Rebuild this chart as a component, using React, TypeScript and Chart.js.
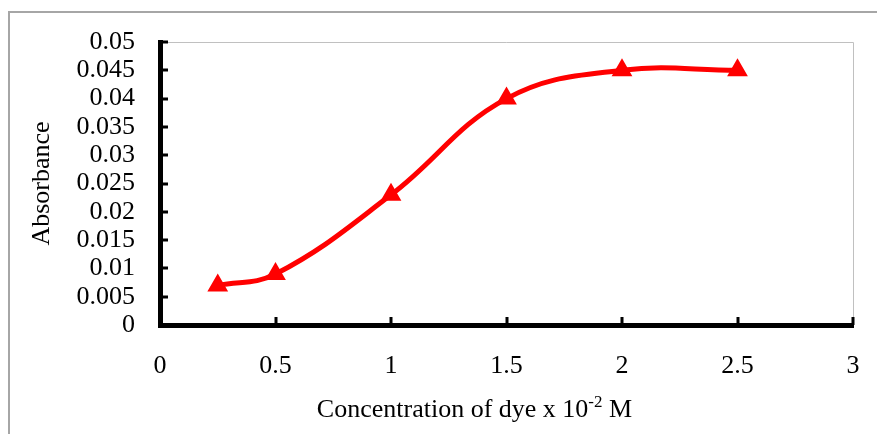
import React, { useEffect, useRef } from "react";
import { Chart, registerables } from "chart.js";

Chart.register(...registerables);

const concentration = [0.25, 0.5, 1, 1.5, 2, 2.5];
const absorbance = [0.007, 0.009, 0.023, 0.04, 0.045, 0.045];
const xTitleMain = "Concentration of dye x 10";
const xTitleSup = "-2";
const xTitleUnit = " M";
const yTitleText = "Absorbance";

const FONT = '"Liberation Serif", "Times New Roman", serif';

export default function App() {
  const ref = useRef<HTMLCanvasElement>(null);

  useEffect(() => {
    if (!ref.current) return;

    const decor = {
      id: "decor",
      beforeDraw(chart: any) {
        const { ctx, chartArea: a } = chart;
        ctx.save();
        ctx.fillStyle = "#ffffff";
        ctx.fillRect(0, 0, chart.width, chart.height);
        // outer frame
        ctx.fillStyle = "#a6a6a6";
        ctx.fillRect(8, 11, chart.width, 2);
        ctx.fillRect(8, 11, 2, chart.height);
        // plot area border (top/right)
        ctx.strokeStyle = "#c0c0c0";
        ctx.lineWidth = 1;
        ctx.beginPath();
        ctx.moveTo(a.left, Math.round(a.top) + 0.5);
        ctx.lineTo(Math.round(a.right) + 0.5, Math.round(a.top) + 0.5);
        ctx.lineTo(Math.round(a.right) + 0.5, a.bottom);
        ctx.stroke();
        ctx.restore();
      },
      afterDraw(chart: any) {
        const { ctx, chartArea: a, scales } = chart;
        ctx.save();
        ctx.fillStyle = "#000000";
        // inward tick marks
        scales.y.ticks.forEach((t: any) => {
          const py = scales.y.getPixelForValue(t.value);
          ctx.fillRect(a.left, Math.round(py) - 1.5, 8, 3);
        });
        scales.x.ticks.forEach((t: any) => {
          const px = scales.x.getPixelForValue(t.value);
          ctx.fillRect(Math.round(px) - 1.5, a.bottom - 8, 3, 8);
        });
        // x title with superscript
        const mainFont = `26px ${FONT}`;
        const supFont = `17px ${FONT}`;
        ctx.font = mainFont;
        const w1 = ctx.measureText(xTitleMain).width;
        const w3 = ctx.measureText(xTitleUnit).width;
        ctx.font = supFont;
        const w2 = ctx.measureText(xTitleSup).width;
        const total = w1 + w2 + w3;
        const cx = 474.5;
        const base = 417;
        let x = cx - total / 2;
        ctx.textBaseline = "alphabetic";
        ctx.textAlign = "left";
        ctx.font = mainFont;
        ctx.fillText(xTitleMain, x, base);
        x += w1;
        ctx.font = supFont;
        ctx.fillText(xTitleSup, x, base - 10.5);
        x += w2;
        ctx.font = mainFont;
        ctx.fillText(xTitleUnit, x, base);
        ctx.restore();
      },
    };

    const chart = new Chart(ref.current, {
      type: "line",
      data: {
        datasets: [
          {
            data: concentration.map((c, i) => ({ x: c, y: absorbance[i] })),
            borderColor: "#ff0000",
            backgroundColor: "#ff0000",
            borderWidth: 5,
            tension: 0.4,
            pointStyle: "triangle",
            pointRadius: 10,
            pointBorderWidth: 2,
            pointBackgroundColor: "#ff0000",
            pointBorderColor: "#ff0000",
            fill: false,
          },
        ],
      },
      options: {
        responsive: false,
        animation: false,
        devicePixelRatio: 1,
        layout: { padding: { top: 42, right: 24, left: 0, bottom: 0 } },
        plugins: {
          legend: { display: false },
          tooltip: { enabled: false },
        },
        scales: {
          x: {
            type: "linear",
            min: 0,
            max: 3,
            afterFit(scale: any) {
              scale.height = 109;
              scale.paddingLeft = 0;
              scale.paddingRight = 0;
            },
            ticks: {
              stepSize: 0.5,
              autoSkip: false,
              maxRotation: 0,
              padding: 26,
              color: "#000000",
              font: { family: FONT, size: 26 },
              callback: (v: any) => String(Number(Number(v).toFixed(1))),
            },
            grid: { display: false, drawTicks: false },
            border: { display: true, color: "#000000", width: 5 },
          },
          y: {
            type: "linear",
            min: 0,
            max: 0.05,
            afterFit(scale: any) {
              scale.width = 160;
              scale.paddingTop = 0;
              scale.paddingBottom = 0;
            },
            ticks: {
              stepSize: 0.005,
              autoSkip: false,
              padding: 25,
              color: "#000000",
              font: { family: FONT, size: 26 },
              callback: (v: any) => String(Number(Number(v).toFixed(3))),
            },
            title: {
              display: true,
              text: yTitleText,
              color: "#000000",
              font: { family: FONT, size: 26 },
              padding: { top: 27, bottom: 0 },
            },
            grid: { display: false, drawTicks: false },
            border: { display: true, color: "#000000", width: 5 },
          },
        },
      },
      plugins: [decor],
    } as any);

    return () => chart.destroy();
  }, []);

  return (
    <div style={{ position: "fixed", left: 0, top: 0, width: 877, height: 434, background: "#fff" }}>
      <canvas ref={ref} width={877} height={434} style={{ display: "block", width: 877, height: 434 }} />
    </div>
  );
}
